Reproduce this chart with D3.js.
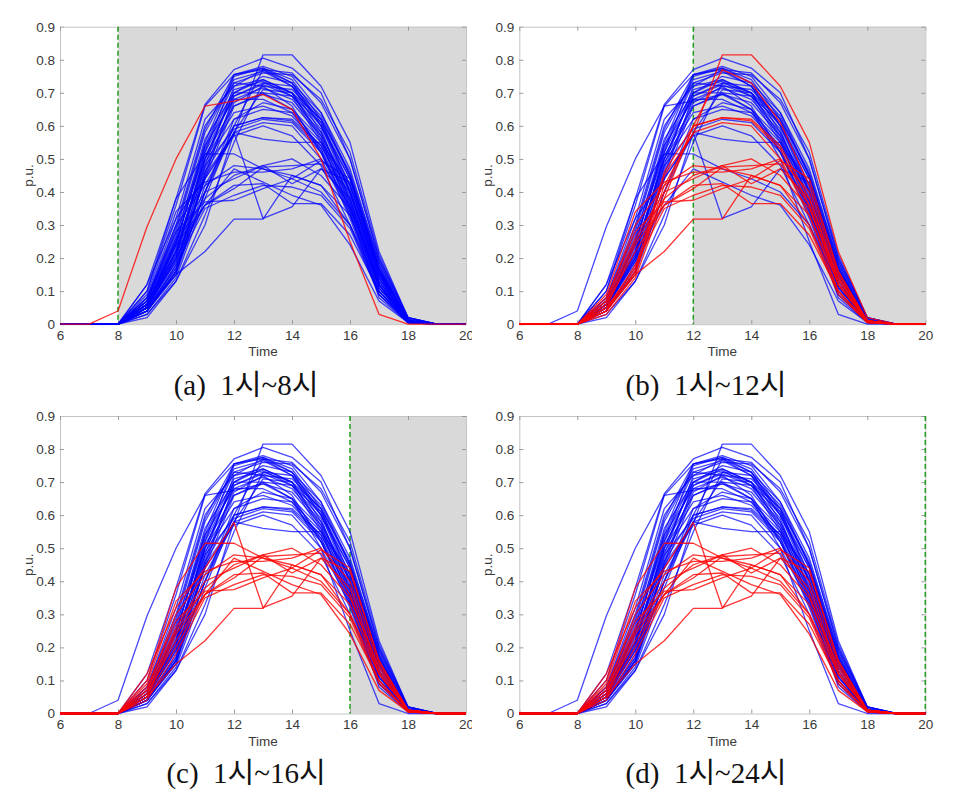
<!DOCTYPE html>
<html>
<head>
<meta charset="utf-8">
<script src="https://cdn.jsdelivr.net/npm/d3@7"></script>
<style>
  body { margin: 0; background: #fff; }
  svg { display: block; }
</style>
</head>
<body>
<svg id="chart" width="955" height="808"></svg>
<script>
/* Data */
const hours = [6, 7, 8, 9, 10, 11, 12, 13, 14, 15, 16, 17, 18, 19, 20];
const xTicks = [6, 8, 10, 12, 14, 16, 18, 20];
const yTicks = [0, 0.1, 0.2, 0.3, 0.4, 0.5, 0.6, 0.7, 0.8, 0.9];

const profileNames = [
  "E", "T1", "T2", "T3",
  "H1", "H2", "H3", "H4", "H5", "H6", "H7", "H8", "H9", "H10",
  "H11", "H12", "H13", "H14", "H15", "H16", "H17", "H18", "H19", "H20",
  "H21", "H22", "H23", "H24", "H25", "H26", "H27", "H28", "H29", "H30", "H31",
  "L1", "L2", "L3", "L4", "L5", "L6", "L7", "L8", "L9", "L10", "L11", "L12"
];
const profiles = [
  [0, 0, 0.04, 0.295, 0.50, 0.66, 0.675, 0.695, 0.65, 0.50, 0.25, 0.03, 0, 0, 0],
  [0, 0, 0, 0.12, 0.38, 0.665, 0.77, 0.805, 0.775, 0.70, 0.50, 0.20, 0.02, 0, 0],
  [0, 0, 0, 0.04, 0.15, 0.45, 0.575, 0.815, 0.815, 0.72, 0.55, 0.22, 0.02, 0, 0],
  [0, 0, 0, 0.10, 0.36, 0.66, 0.755, 0.775, 0.73, 0.60, 0.40, 0.13, 0.01, 0, 0],
  [0, 0, 0, 0.05, 0.20, 0.52, 0.75, 0.775, 0.74, 0.62, 0.40, 0.15, 0.01, 0, 0],
  [0, 0, 0, 0.06, 0.24, 0.55, 0.755, 0.78, 0.75, 0.64, 0.45, 0.18, 0.01, 0, 0],
  [0, 0, 0, 0.04, 0.18, 0.48, 0.72, 0.77, 0.72, 0.60, 0.42, 0.16, 0.01, 0, 0],
  [0, 0, 0, 0.07, 0.28, 0.58, 0.74, 0.765, 0.72, 0.58, 0.38, 0.12, 0.005, 0, 0],
  [0, 0, 0, 0.05, 0.22, 0.50, 0.70, 0.74, 0.70, 0.57, 0.36, 0.12, 0.01, 0, 0],
  [0, 0, 0, 0.06, 0.25, 0.53, 0.71, 0.735, 0.69, 0.55, 0.35, 0.11, 0.01, 0, 0],
  [0, 0, 0, 0.04, 0.16, 0.45, 0.69, 0.73, 0.70, 0.60, 0.44, 0.17, 0.01, 0, 0],
  [0, 0, 0, 0.08, 0.30, 0.60, 0.73, 0.72, 0.66, 0.52, 0.32, 0.09, 0.005, 0, 0],
  [0, 0, 0, 0.05, 0.20, 0.47, 0.68, 0.715, 0.68, 0.58, 0.40, 0.14, 0.01, 0, 0],
  [0, 0, 0, 0.06, 0.26, 0.56, 0.70, 0.70, 0.65, 0.53, 0.33, 0.10, 0.01, 0, 0],
  [0, 0, 0, 0.05, 0.19, 0.44, 0.66, 0.695, 0.67, 0.57, 0.41, 0.15, 0.01, 0, 0],
  [0, 0, 0, 0.07, 0.27, 0.54, 0.68, 0.68, 0.64, 0.52, 0.34, 0.11, 0.01, 0, 0],
  [0, 0, 0, 0.04, 0.15, 0.40, 0.62, 0.67, 0.65, 0.56, 0.40, 0.16, 0.01, 0, 0],
  [0, 0, 0, 0.06, 0.23, 0.50, 0.64, 0.66, 0.63, 0.54, 0.37, 0.13, 0.01, 0, 0],
  [0, 0, 0, 0.05, 0.21, 0.49, 0.62, 0.65, 0.64, 0.55, 0.39, 0.15, 0.01, 0, 0],
  [0, 0, 0, 0.03, 0.14, 0.38, 0.60, 0.625, 0.62, 0.54, 0.38, 0.14, 0.01, 0, 0],
  [0, 0, 0, 0.05, 0.17, 0.46, 0.60, 0.625, 0.615, 0.53, 0.36, 0.12, 0.01, 0, 0],
  [0, 0, 0, 0.06, 0.22, 0.48, 0.59, 0.62, 0.61, 0.52, 0.35, 0.12, 0.01, 0, 0],
  [0, 0, 0, 0.04, 0.16, 0.42, 0.58, 0.61, 0.60, 0.50, 0.33, 0.10, 0.01, 0, 0],
  [0, 0, 0, 0.05, 0.19, 0.44, 0.57, 0.60, 0.57, 0.48, 0.30, 0.09, 0.01, 0, 0],
  [0, 0, 0, 0.04, 0.16, 0.40, 0.58, 0.56, 0.55, 0.55, 0.42, 0.17, 0.01, 0, 0],
  [0, 0, 0, 0.07, 0.29, 0.59, 0.755, 0.77, 0.76, 0.67, 0.50, 0.20, 0.02, 0, 0],
  [0, 0, 0, 0.06, 0.24, 0.54, 0.73, 0.76, 0.755, 0.68, 0.52, 0.21, 0.02, 0, 0],
  [0, 0, 0, 0.05, 0.21, 0.50, 0.70, 0.75, 0.73, 0.64, 0.47, 0.19, 0.015, 0, 0],
  [0, 0, 0, 0.04, 0.17, 0.46, 0.67, 0.72, 0.71, 0.62, 0.45, 0.18, 0.01, 0, 0],
  [0, 0, 0, 0.03, 0.13, 0.30, 0.58, 0.71, 0.70, 0.62, 0.46, 0.19, 0.015, 0, 0],
  [0, 0, 0, 0.02, 0.13, 0.33, 0.55, 0.73, 0.72, 0.63, 0.45, 0.17, 0.01, 0, 0],
  [0, 0, 0, 0.08, 0.32, 0.62, 0.72, 0.74, 0.70, 0.56, 0.34, 0.08, 0.005, 0, 0],
  [0, 0, 0, 0.05, 0.22, 0.51, 0.66, 0.70, 0.69, 0.61, 0.44, 0.17, 0.01, 0, 0],
  [0, 0, 0, 0.06, 0.25, 0.52, 0.69, 0.725, 0.69, 0.59, 0.37, 0.11, 0.01, 0, 0],
  [0, 0, 0, 0.04, 0.16, 0.40, 0.60, 0.77, 0.73, 0.61, 0.42, 0.16, 0.01, 0, 0],
  [0, 0, 0, 0.10, 0.38, 0.515, 0.515, 0.47, 0.44, 0.40, 0.30, 0.12, 0.01, 0, 0],
  [0, 0, 0, 0.12, 0.32, 0.44, 0.578, 0.32, 0.355, 0.47, 0.43, 0.16, 0.01, 0, 0],
  [0, 0, 0, 0.05, 0.15, 0.22, 0.318, 0.318, 0.45, 0.42, 0.30, 0.10, 0.005, 0, 0],
  [0, 0, 0, 0.07, 0.30, 0.42, 0.48, 0.47, 0.45, 0.42, 0.33, 0.12, 0.01, 0, 0],
  [0, 0, 0, 0.06, 0.25, 0.38, 0.45, 0.48, 0.50, 0.45, 0.35, 0.14, 0.01, 0, 0],
  [0, 0, 0, 0.08, 0.28, 0.37, 0.375, 0.41, 0.44, 0.495, 0.44, 0.16, 0.01, 0, 0],
  [0, 0, 0, 0.06, 0.22, 0.36, 0.42, 0.425, 0.365, 0.365, 0.27, 0.10, 0.005, 0, 0],
  [0, 0, 0, 0.09, 0.34, 0.43, 0.46, 0.46, 0.47, 0.50, 0.40, 0.15, 0.01, 0, 0],
  [0, 0, 0, 0.07, 0.26, 0.40, 0.44, 0.48, 0.425, 0.47, 0.38, 0.13, 0.01, 0, 0],
  [0, 0, 0, 0.05, 0.24, 0.36, 0.41, 0.475, 0.48, 0.485, 0.36, 0.12, 0.01, 0, 0],
  [0, 0, 0, 0.05, 0.20, 0.36, 0.47, 0.43, 0.39, 0.36, 0.24, 0.07, 0.005, 0, 0],
  [0, 0, 0, 0.04, 0.18, 0.35, 0.39, 0.42, 0.415, 0.39, 0.29, 0.09, 0.005, 0, 0]
];

/* Panels: cutoff hour, caption, profiles drawn red */
const panelCutoffs = [8, 12, 16, 20];
const panelCaptions = ["(a)  1시~8시", "(b)  1시~12시", "(c)  1시~16시", "(d)  1시~24시"];
const lowGroup = ["L1", "L2", "L3", "L4", "L5", "L6", "L7", "L8", "L9", "L10", "L11", "L12"];
const panelRed = [
  ["E"],
  ["L3", "L4", "L5", "L6", "L7", "L8", "L9", "L10", "L12", "T2", "H31", "H16", "H17", "H19"],
  lowGroup,
  lowGroup
];

/* Layout */
const plotW = 406, plotH = 297.5;
const panelOrigin = [[60, 26.7], [519.3, 26.7], [60, 416], [519.3, 416]];
const panelClip = [[0, 0, 472, 404], [480, 0, 475, 404], [0, 404, 472, 404], [480, 404, 475, 404]];
const captionPos = [[246, 395], [706, 395], [246, 783], [706, 783]];

/* Colors */
const BLUE_COLOR = "#0000ff";
const RED_COLOR = "#ff0000";
const SHADE_COLOR = "#d9d9d9";
const GREEN_COLOR = "#1f9e1f";
const BOX_COLOR = "#c4c4c4";
const TICK_COLOR = "#9a9a9a";
const LABEL_COLOR = "#3a3a3a";

var svg = d3.select("#chart");

var xScale = d3.scaleLinear().domain([6, 20]).range([0, plotW]);
var yScale = d3.scaleLinear().domain([0, 0.9]).range([plotH, 0]);

var line = d3.line()
    .x((d, i) => xScale(hours[i]))
    .y(d => yScale(d));

var yFmt = d => d === 0 ? "0" : d3.format(".1f")(d);

panelCutoffs.forEach(function(cut, p) {
  var c = panelClip[p];
  var holder = svg.append("svg")
      .attr("x", c[0]).attr("y", c[1])
      .attr("width", c[2]).attr("height", c[3])
      .attr("viewBox", c.join(" "));

  var g = holder.append("g")
      .attr("transform", "translate(" + panelOrigin[p][0] + "," + panelOrigin[p][1] + ")");

  // shaded area after the cutoff hour
  g.append("rect")
      .attr("x", xScale(cut))
      .attr("y", 0)
      .attr("width", xScale(20) - xScale(cut))
      .attr("height", plotH)
      .attr("fill", SHADE_COLOR);

  // axes (box with inward ticks)
  var axB = g.append("g").attr("transform", "translate(0," + plotH + ")")
      .call(d3.axisBottom(xScale).tickValues(xTicks).tickSizeInner(-4).tickSizeOuter(0).tickPadding(6));
  var axL = g.append("g")
      .call(d3.axisLeft(yScale).tickValues(yTicks).tickFormat(yFmt).tickSizeInner(-4).tickSizeOuter(0).tickPadding(5));
  var axT = g.append("g")
      .call(d3.axisTop(xScale).tickValues(xTicks).tickFormat("").tickSizeInner(-4).tickSizeOuter(0));
  var axR = g.append("g").attr("transform", "translate(" + plotW + ",0)")
      .call(d3.axisRight(yScale).tickValues(yTicks).tickFormat("").tickSizeInner(-4).tickSizeOuter(0));

  [axB, axL, axT, axR].forEach(function(ax) {
    ax.select(".domain").attr("stroke", BOX_COLOR).attr("stroke-width", 1);
    ax.selectAll(".tick line").attr("stroke", TICK_COLOR);
    ax.selectAll(".tick text")
        .attr("fill", LABEL_COLOR)
        .style("font-family", "'Liberation Sans', Arial, sans-serif")
        .style("font-size", "13.5px");
  });

  // cutoff marker
  g.append("line")
      .attr("x1", xScale(cut)).attr("x2", xScale(cut))
      .attr("y1", 0).attr("y2", plotH)
      .attr("stroke", GREEN_COLOR)
      .attr("stroke-width", 1.5)
      .attr("stroke-dasharray", "5,3");

  // profiles: blue first, red on top
  var reds = panelRed[p];
  var rows = profiles.map((v, i) => ({name: profileNames[i], values: v, red: reds.indexOf(profileNames[i]) >= 0}));
  rows.sort((a, b) => (a.red ? 1 : 0) - (b.red ? 1 : 0));

  g.append("g").selectAll("path")
      .data(rows)
      .enter().append("path")
      .attr("d", d => line(d.values))
      .attr("fill", "none")
      .attr("stroke", d => d.red ? RED_COLOR : BLUE_COLOR)
      .attr("stroke-opacity", d => d.red ? 0.8 : 0.72)
      .attr("stroke-width", 1.3)
      .attr("stroke-linejoin", "round");

  // axis titles
  g.append("text")
      .attr("x", plotW / 2)
      .attr("y", plotH + 32)
      .attr("text-anchor", "middle")
      .attr("fill", LABEL_COLOR)
      .style("font-family", "'Liberation Sans', Arial, sans-serif")
      .style("font-size", "13.5px")
      .text("Time");

  g.append("text")
      .attr("transform", "translate(-27," + (plotH / 2) + ") rotate(-90)")
      .attr("text-anchor", "middle")
      .attr("fill", LABEL_COLOR)
      .style("font-family", "'Liberation Sans', Arial, sans-serif")
      .style("font-size", "13.5px")
      .text("p.u.");

  // caption
  holder.append("text")
      .attr("x", captionPos[p][0])
      .attr("y", captionPos[p][1])
      .attr("text-anchor", "middle")
      .attr("fill", "#111")
      .style("white-space", "pre")
      .style("font-family", "'Liberation Serif', 'Times New Roman', 'Noto Sans CJK KR', serif")
      .style("font-size", "29px")
      .text(panelCaptions[p]);
});
</script>
</body>
</html>
